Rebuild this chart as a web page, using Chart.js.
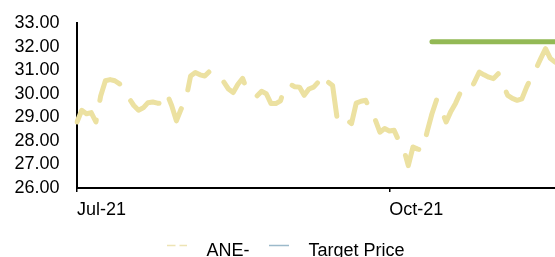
<!DOCTYPE html>
<html><head><meta charset="utf-8">
<script src="https://cdn.jsdelivr.net/npm/chart.js@4"></script>
<style>html,body{margin:0;padding:0;background:#fff;overflow:hidden}#wrap{width:555px;height:270px}</style>
</head><body><div id="wrap"><canvas id="c" width="555" height="270"></canvas></div>
<script>
// ---- data ----
const startDate = '2021-07-01';
const endDate = '2021-11-19';
const seriesNames = ['ANE-', 'Target Price'];
const aneValues = [
  28.80, 29.30, 29.15, 29.20, 28.80, 29.90, 30.55, 30.60, 30.55, 30.42,
  30.10, 29.80, 29.50, 29.30, 29.40, 29.62, 29.65, 29.60, 29.58, 30.00,
  29.50, 28.85, 29.35, 29.75, 30.75, 30.90, 30.80, 30.75, 30.95, 30.80,
  30.78, 30.50, 30.20, 30.05, 30.40, 30.65, 30.10, 30.00, 29.90, 30.10,
  30.00, 29.58, 29.58, 29.70, 30.35, 30.40, 30.30, 30.28, 29.93, 30.20,
  30.28, 30.50, 30.82, 30.50, 30.35, 28.90, 29.08, 28.90, 28.73, 29.60,
  29.68, 29.72, 29.30, 28.90, 28.37, 28.52, 28.42, 28.45, 28.00, 27.67,
  26.95, 27.74, 27.65, 27.60, 28.40, 29.15, 29.75, 29.30, 28.80, 29.25,
  29.60, 30.05, 30.00, 30.10, 30.50, 30.92, 30.80, 30.70, 30.64, 30.85,
  30.40, 29.93, 29.80, 29.72, 29.78, 30.28, 30.70, 31.06, 31.50, 31.91,
  31.50, 31.34
];
const targetPrice = 32.2;
const targetStartDate = '2021-10-14';
const xTickDates = ['2021-07-01', '2021-10-01'];
const yMin = 26, yMax = 33, yStep = 1;
const monthNames = ['Jan','Feb','Mar','Apr','May','Jun','Jul','Aug','Sep','Oct','Nov','Dec'];

// trading days (weekdays) between start and end
function tradingDates(s, e) {
  const out = [];
  const d = new Date(s + 'T00:00:00Z'), end = new Date(e + 'T00:00:00Z');
  while (d <= end) {
    const w = d.getUTCDay();
    if (w !== 0 && w !== 6) out.push(d.toISOString().slice(0, 10));
    d.setUTCDate(d.getUTCDate() + 1);
  }
  return out;
}
const dates = tradingDates(startDate, endDate);
const targetValues = dates.map(d => d >= targetStartDate ? targetPrice : null);
const fmtMonth = iso => monthNames[+iso.slice(5, 7) - 1] + '-' + iso.slice(2, 4);

// legend marker images
function marker(color, dash, width) {
  const c = document.createElement('canvas');
  c.width = 20; c.height = 24;
  const g = c.getContext('2d');
  g.strokeStyle = color; g.lineWidth = width; g.setLineDash(dash);
  g.beginPath(); g.moveTo(0, 6.5); g.lineTo(20, 6.5); g.stroke();
  return c;
}
const markers = [marker('#EDE4B4', [8, 4], 1.5), marker('#9CBACB', [], 1.5)];
const legendTexts = ['  ' + seriesNames[0], '  ' + seriesNames[1] + '            '];

Chart.defaults.font.family = '"Liberation Sans", Arial, sans-serif';
Chart.defaults.color = '#000';

new Chart(document.getElementById('c'), {
  type: 'line',
  data: {
    labels: dates,
    datasets: [
      { label: seriesNames[0], data: aneValues, borderColor: '#ECE1A1', borderWidth: 5,
        borderDash: [36, 20], borderCapStyle: 'round', borderJoinStyle: 'round',
        pointRadius: 0, tension: 0, fill: false, order: 2 },
      { label: seriesNames[1], data: targetValues, borderColor: '#93B955', borderWidth: 5,
        borderCapStyle: 'round', pointRadius: 0, tension: 0, fill: false, spanGaps: false, order: 1 }
    ]
  },
  options: {
    responsive: false, animation: false, devicePixelRatio: 1,
    layout: { padding: { top: 23, left: 14.5, right: 0, bottom: 0 } },
    plugins: {
      tooltip: { enabled: false },
      legend: {
        position: 'bottom', fullSize: false,
        labels: {
          usePointStyle: true, pointStyleWidth: 20, padding: 20,
          font: { size: 18 }, color: '#000',
          generateLabels: chart => chart.data.datasets.map((ds, i) => ({
            text: legendTexts[i], pointStyle: markers[i], fillStyle: 'rgba(0,0,0,0)',
            strokeStyle: 'rgba(0,0,0,0)', lineWidth: 0, hidden: false, datasetIndex: i, fontColor: '#000'
          }))
        }
      }
    },
    scales: {
      x: {
        type: 'category',
        grid: { display: true, drawOnChartArea: false, drawTicks: true, tickLength: 4, color: '#000', lineWidth: 1.5 },
        border: { display: true, color: '#000', width: 2 },
        ticks: { autoSkip: false, maxRotation: 0, align: 'start', padding: 5,
          font: { size: 18, lineHeight: 1.4 }, color: '#000',
          callback: function (v) { return fmtMonth(dates[v]); } },
        afterBuildTicks: axis => { axis.ticks = xTickDates.map(d => ({ value: dates.indexOf(d) })); },
        afterFit: axis => { axis.height = 34; }
      },
      y: {
        min: yMin, max: yMax,
        grid: { display: false, drawTicks: false },
        border: { display: true, color: '#000', width: 2 },
        ticks: { stepSize: yStep, autoSkip: false, padding: 17.5, font: { size: 18 }, color: '#000',
          callback: v => v.toFixed(2) },
        afterFit: axis => { axis.width = 62.5; axis.paddingTop = 0; axis.paddingBottom = 0; }
      }
    }
  }
});
</script></body></html>
